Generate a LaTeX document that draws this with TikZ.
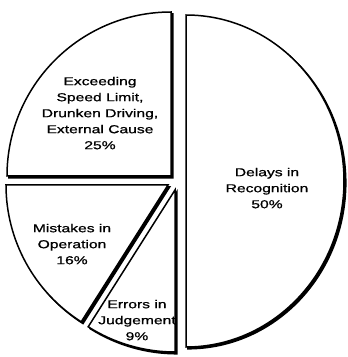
\documentclass[tikz,border=0pt]{standalone}
\usepackage{fontspec}
\setmainfont[FakeBold=0.7]{Liberation Sans}
\newcommand\widetext[1]{\scalebox{1.36}[1]{\begin{tabular}{@{}c@{}}#1\end{tabular}}}
\begin{document}
\begin{tikzpicture}[x=1pt,y=1pt,
  slice/.style={draw=black, line width=1.5pt, line join=miter, fill=white,
    preaction={draw=black, line width=1.5pt, fill=black,
      transform canvas={xshift=1.8pt,yshift=-1.8pt}}},
  lbl/.style={inner sep=0pt, font=\fontsize{11.5}{16}\selectfont}]
\useasboundingbox (0,0) rectangle (348,357);
% Delays in Recognition 50%
\coordinate (c2) at (186,176);
\path[slice] (c2) -- ++(0,166) arc[start angle=90, end angle=-90, x radius=158, y radius=166] -- cycle;
% Exceeding ... 25%
\coordinate (c1) at (171,181);
\path[slice] (c1) -- ++(-164,0) arc[start angle=180, end angle=90, radius=164] -- cycle;
% Mistakes in Operation 16%
\coordinate (c3) at (168,172);
\path[slice] (c3) -- ++(-162,0) arc[start angle=180, end angle=237.6, radius=162] -- cycle;
% Errors in Judgement 9%
\coordinate (c4) at (175,167);
\path[slice] (c4) -- ++(237.6:162) arc[start angle=237.6, end angle=270, radius=162] -- cycle;
% labels
\node[lbl] (t1) at (100,243) {\widetext{Exceeding\\Speed Limit,\\Drunken Driving,\\External Cause\\25\%}};
\node[lbl] (t2) at (267,168) {\widetext{Delays in\\Recognition\\50\%}};
\node[lbl] (t3) at (72,112) {\widetext{Mistakes in\\Operation\\16\%}};
\node[lbl] (t4) at (137,36) {\widetext{Errors in\\Judgement\\9\%}};
\end{tikzpicture}
\end{document}
